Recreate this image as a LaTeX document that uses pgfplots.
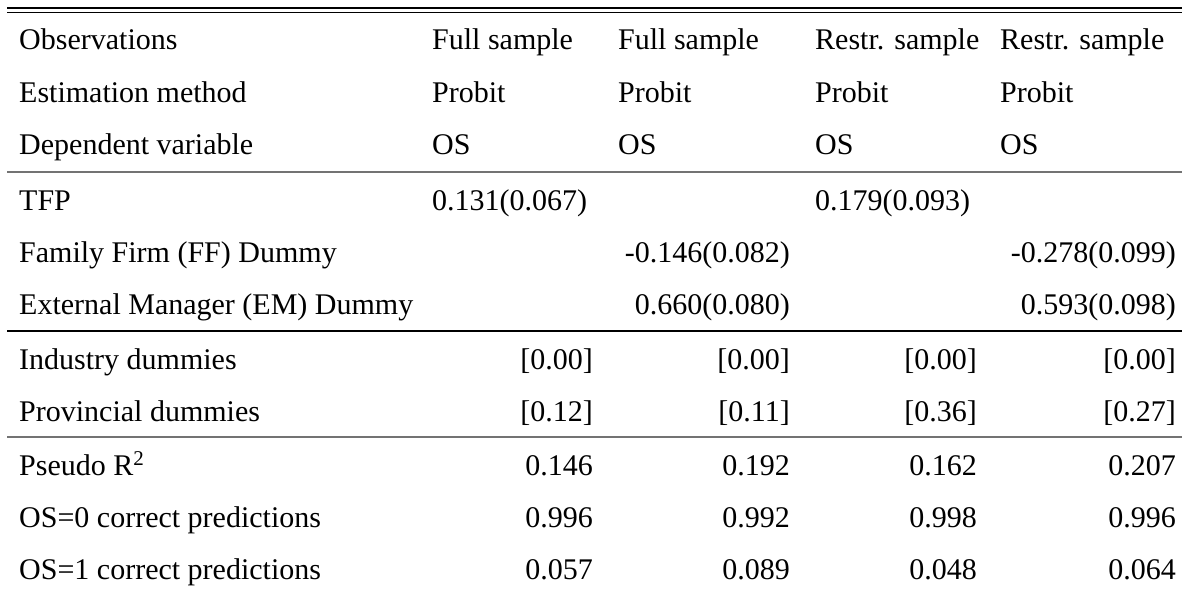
\documentclass[border=0pt]{standalone}
\usepackage{pgfplots}
\usepackage{pgfplotstable}
\usepackage{fontspec}
\setmainfont{Liberation Serif}
\pgfplotsset{compat=1.18}

% cells set flush left: x, baseline y (pixels from top), text
\pgfplotstableread[col sep=comma]{
x,y,label
19,50,Observations
432,50,Full sample
618,50,Full sample
815,50,Restr. sample
1000,50,Restr. sample
19,103,Estimation method
432,103,Probit
618,103,Probit
815,103,Probit
1000,103,Probit
19,155,Dependent variable
432,155,OS
618,155,OS
815,155,OS
1000,155,OS
19,210,TFP
432,210,0.131(0.067)
815,210,0.179(0.093)
19,262,Family Firm (FF) Dummy
19,314,External Manager (EM) Dummy
19,369,Industry dummies
19,421,Provincial dummies
19,475,Pseudo R\textsuperscript{2}
19,527,OS=0 correct predictions
19,579,OS=1 correct predictions
}\leftcells

% cells set flush right
\pgfplotstableread[col sep=comma]{
x,y,label
790,262,-0.146(0.082)
1176,262,-0.278(0.099)
790,314,0.660(0.080)
1176,314,0.593(0.098)
593,369,[0.00]
790,369,[0.00]
977,369,[0.00]
1176,369,[0.00]
593,421,[0.12]
790,421,[0.11]
977,421,[0.36]
1176,421,[0.27]
593,475,0.146
790,475,0.192
977,475,0.162
1176,475,0.207
593,527,0.996
790,527,0.992
977,527,0.998
1176,527,0.996
593,579,0.057
790,579,0.089
977,579,0.048
1176,579,0.064
}\rightcells

\begin{document}
\begin{tikzpicture}
\begin{axis}[
    scale only axis,
    width=1182pt, height=596pt,
    xmin=0, xmax=1182,
    ymin=0, ymax=596,
    y dir=reverse,
    hide axis,
    clip=false,
    font=\fontsize{30}{36}\selectfont,
]
% rules
\addplot[black, line width=1.2pt] coordinates {(7,8) (1182,8)};
\addplot[black, line width=1.2pt] coordinates {(7,12.5) (1182,12.5)};
\addplot[black!55, line width=2pt] coordinates {(7,172) (1182,172)};
\addplot[black, line width=1.4pt] coordinates {(7,331) (1182,331)};
\addplot[black!55, line width=2pt] coordinates {(7,437) (1182,437)};

% text
\addplot[only marks, mark=none, nodes near coords, point meta=explicit symbolic,
    nodes near coords style={anchor=base west, inner sep=0pt, font=\fontsize{30}{36}\selectfont}]
    table[x=x, y=y, meta=label] {\leftcells};
\addplot[only marks, mark=none, nodes near coords, point meta=explicit symbolic,
    nodes near coords style={anchor=base east, inner sep=0pt, font=\fontsize{30}{36}\selectfont}]
    table[x=x, y=y, meta=label] {\rightcells};
\end{axis}
% page = axis box exactly
\pgfresetboundingbox
\path (current axis.south west) rectangle (current axis.north east);
\end{tikzpicture}
\end{document}
